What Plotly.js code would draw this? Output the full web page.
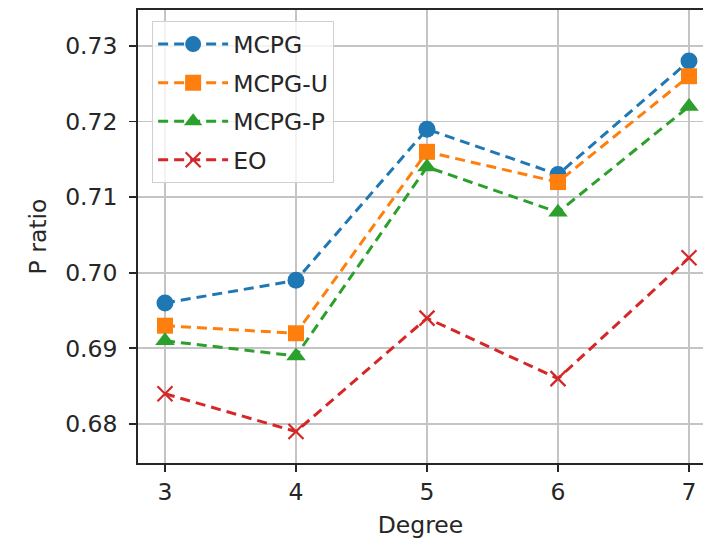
<!DOCTYPE html>
<html>
<head>
<meta charset="utf-8">
<script src="https://cdn.plot.ly/plotly-3.0.1.min.js"></script>
<style>html,body{margin:0;padding:0;background:#fff;}#chart{width:703px;height:539px;}</style>
</head>
<body>
<div id="chart"></div>
<script>
const degrees = [3, 4, 5, 6, 7];
const seriesNames = ["MCPG", "MCPG-U", "MCPG-P", "EO"];
const mcpg  = [0.696, 0.699, 0.719, 0.713, 0.728];
const mcpgU = [0.693, 0.692, 0.716, 0.712, 0.726];
const mcpgP = [0.691, 0.689, 0.714, 0.708, 0.722];
const eo    = [0.684, 0.679, 0.694, 0.686, 0.702];
const yTicks = [0.68, 0.69, 0.70, 0.71, 0.72, 0.73];
const yTickText = ["0.68", "0.69", "0.70", "0.71", "0.72", "0.73"];

const colors = ["#1f77b4", "#ff7f0e", "#2ca02c", "#d62728"];
const symbols = ["circle", "square", "triangle-up", "x-thin"];
const sizes = [17, 16, 17, 15];
const values = [mcpg, mcpgU, mcpgP, eo];

const traces = values.map((v, i) => ({
  x: degrees, y: v, name: seriesNames[i], type: "scatter", mode: "lines+markers",
  legendgroup: "g" + i,
  line: {color: colors[i], width: 3, dash: "10px,6px"},
  marker: {color: colors[i], symbol: symbols[i], size: sizes[i],
           line: {color: colors[i], width: i === 3 ? 2.2 : 0}}
}));

const font = {family: "DejaVu Sans", size: 23.5, color: "#262626"};
const layout = {
  width: 703, height: 539,
  margin: {l: 138, r: 0, t: 10, b: 76},
  paper_bgcolor: "#fff", plot_bgcolor: "#fff",
  font: font,
  showlegend: true,
  legend: {x: 0.025, y: 0.975, xanchor: "left", yanchor: "top",
           bgcolor: "rgba(255,255,255,0.8)", bordercolor: "#d0d0d0", borderwidth: 1,
           font: font, itemwidth: 70, tracegroupgap: 5},
  xaxis: {
    range: [2.794, 7.107], tickvals: degrees, ticktext: degrees.map(String),
    showgrid: true, gridcolor: "#c4c4c4", gridwidth: 1.8,
    showline: true, linecolor: "#262626", linewidth: 1.8, mirror: true,
    ticks: "outside", ticklen: 7, tickwidth: 1.8, tickcolor: "#262626",
    zeroline: false, tickfont: font,
    title: {text: "Degree", font: font, standoff: 13}
  },
  yaxis: {
    range: [0.67484, 0.73476], tickvals: yTicks, ticktext: yTickText,
    showgrid: true, gridcolor: "#c4c4c4", gridwidth: 1.8,
    showline: true, linecolor: "#262626", linewidth: 1.8, mirror: false,
    ticks: "outside", ticklen: 7, tickwidth: 1.8, tickcolor: "#262626",
    ticklabelstandoff: 7,
    zeroline: false, tickfont: font,
    title: {text: "P ratio", font: font, standoff: 12}
  }
};
Plotly.newPlot("chart", traces, layout, {displayModeBar: false, staticPlot: true});
</script>
</body>
</html>
